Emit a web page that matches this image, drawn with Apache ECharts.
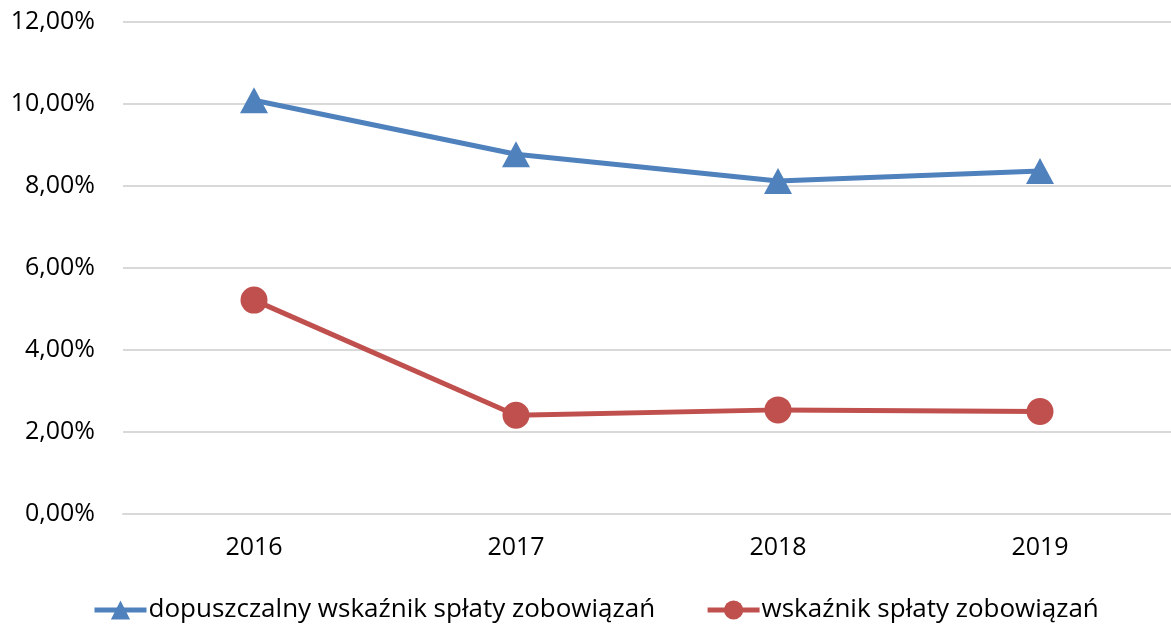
<!DOCTYPE html>
<html><head><meta charset="utf-8">
<script src="https://cdn.jsdelivr.net/npm/echarts@6/dist/echarts.min.js"></script>
<style>html,body{margin:0;padding:0;background:#fff}#c{width:1171px;height:627px}</style>
</head><body><div id="c"></div>
<script>
const categories = ['2016', '2017', '2018', '2019'];
const seriesNames = ['dopuszczalny wskaźnik spłaty zobowiązań', 'wskaźnik spłaty zobowiązań'];
const allowedRatio = [10.09, 8.77, 8.12, 8.36];
const repaymentRatio = [5.21, 2.40, 2.53, 2.49];
const yTicks = [0, 2, 4, 6, 8, 10, 12];

const FONT = 'Open Sans';
const chart = echarts.init(document.getElementById('c'));
chart.setOption({
  animation: false,
  textStyle: { fontFamily: FONT },
  grid: { left: 123, right: 0, top: 22, bottom: 113.5, containLabel: false },
  legend: {
    top: 592,
    left: 87,
    itemWidth: 52,
    itemHeight: 24,
    itemGap: 50,
    lineStyle: { width: 5 },
    textStyle: { fontFamily: FONT, fontSize: 26, color: '#000', padding: [0, 0, 0, -3] },
    data: seriesNames
  },
  xAxis: {
    type: 'category',
    data: categories,
    boundaryGap: true,
    axisLine: { lineStyle: { color: '#d9d9d9', width: 2 } },
    axisTick: { show: false },
    axisLabel: { fontFamily: FONT, fontSize: 25, color: '#000', margin: 22 }
  },
  yAxis: {
    type: 'value',
    min: yTicks[0],
    max: yTicks[yTicks.length - 1],
    interval: 2,
    axisLine: { show: false },
    axisTick: { show: false },
    splitLine: { lineStyle: { color: '#d9d9d9', width: 2 } },
    axisLabel: {
      fontFamily: FONT, fontSize: 25, color: '#000', margin: 28,
      formatter: v => v.toFixed(2).replace('.', ',') + '%'
    }
  },
  series: [
    {
      name: seriesNames[0], type: 'line', data: allowedRatio,
      symbol: 'triangle', symbolSize: [28, 26],
      lineStyle: { color: '#4F81BD', width: 5 },
      itemStyle: { color: '#4F81BD' }
    },
    {
      name: seriesNames[1], type: 'line', data: repaymentRatio,
      symbol: 'circle', symbolSize: 27,
      lineStyle: { color: '#C0504D', width: 5 },
      itemStyle: { color: '#C0504D' }
    }
  ]
});
</script></body></html>
